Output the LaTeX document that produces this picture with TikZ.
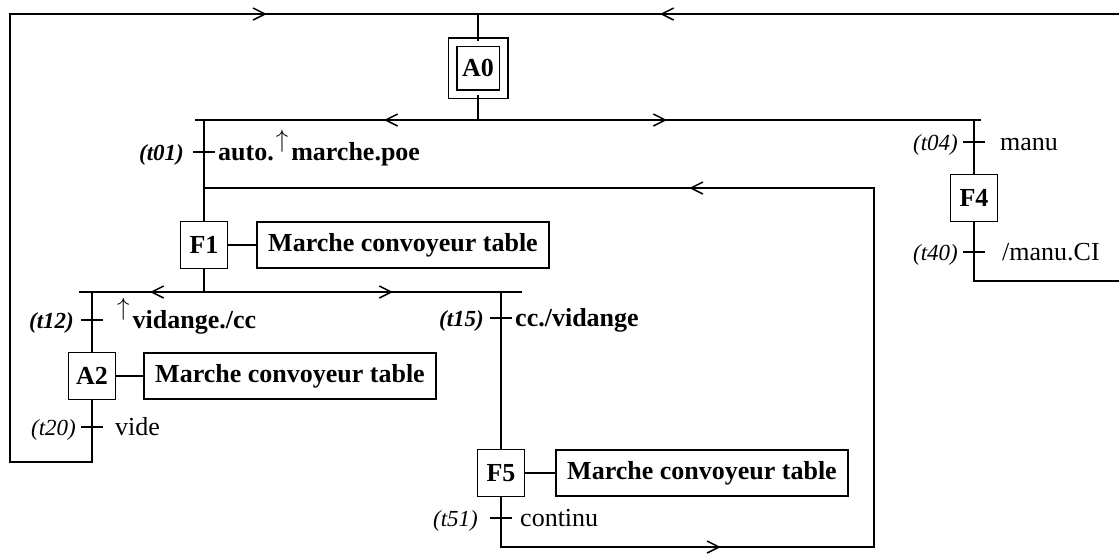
\documentclass[tikz,border=0pt]{standalone}
\usepackage{fontspec}
\setmainfont{Liberation Serif}
\usetikzlibrary{arrows.meta,decorations.markings}
\newcommand{\upar}{{\fontsize{24pt}{24pt}\selectfont\raisebox{13pt}{$\uparrow$}}}
\begin{document}
\begin{tikzpicture}[x=1pt,y=-1pt,
  flow/.style={line width=1.8pt,line join=miter},
  stepbox/.style={draw,line width=1.5pt,minimum width=47pt,minimum height=47pt,inner sep=0pt,
    font=\fontsize{26pt}{28pt}\selectfont\bfseries},
  actbox/.style={draw,line width=1.5pt,minimum height=46pt,inner xsep=11pt,inner ysep=0pt,
    font=\fontsize{26pt}{28pt}\selectfont\bfseries},
  tlab/.style={anchor=base east,inner sep=0pt,font=\fontsize{23pt}{25pt}\selectfont\itshape},
  tlabb/.style={anchor=base east,inner sep=0pt,font=\fontsize{23pt}{25pt}\selectfont\bfseries\itshape},
  cond/.style={anchor=base west,inner sep=0pt,font=\fontsize{26pt}{28pt}\selectfont},
  condb/.style={anchor=base west,inner sep=0pt,font=\fontsize{26pt}{28pt}\selectfont\bfseries},
  tickmark/.style={line width=2.4pt},
  arr/.style={postaction={decorate,decoration={markings,
    mark=at position #1 with {\arrow{Straight Barb[length=12pt,width=12pt,line width=1.5pt]}}}}}
]
\useasboundingbox (0,0) rectangle (1119,558);

% steps
\node[stepbox,double,double distance=7pt,minimum width=51pt,minimum height=52pt] (A0) at (478,68) {A0};
\node[stepbox] (F1) at (204,245) {F1};
\node[actbox] (F1act) at (403,245) {Marche convoyeur table};
\node[stepbox] (A2) at (92,376) {A2};
\node[actbox] (A2act) at (290,376) {Marche convoyeur table};
\node[stepbox] (F5) at (501,473) {F5};
\node[actbox] (F5act) at (702,473) {Marche convoyeur table};
\node[stepbox] (F4) at (974,198) {F4};

% junction coordinates
\coordinate (tj) at (478,14);
\coordinate (tr) at (1119,14);
\coordinate (d0) at (478,120);
\coordinate (d0l) at (195,120);
\coordinate (d0r) at (981,120);
\coordinate (b1) at (204,120);
\coordinate (b4) at (974,120);
\coordinate (d1) at (204,292);
\coordinate (d1l) at (79,292);
\coordinate (d1r) at (522,292);
\coordinate (b2) at (92,292);
\coordinate (b5) at (501,292);
\coordinate (r4) at (1119,281);

% actions
\draw[line width=1.5pt] (F1) -- (F1act);
\draw[line width=1.5pt] (A2) -- (A2act);
\draw[line width=1.5pt] (F5) -- (F5act);

% top
\draw[flow] (tj) -- (A0);
\draw[flow,arr=459pt] (tr) -- (tj);
\draw[flow] (A0) -- (d0);
\draw[flow,arr=94pt] (d0) -- (d0l);
\draw[flow,arr=189pt] (d0) -- (d0r);
\draw[flow] (b1) -- (F1);
\draw[flow] (b4) -- (F4);
\draw[flow] (F4) |- (r4);

% F1 divergence
\draw[flow] (F1) -- (d1);
\draw[flow,arr=54pt] (d1) -- (d1l);
\draw[flow,arr=189pt] (d1) -- (d1r);
\draw[flow] (b2) -- (A2);
\draw[flow] (b5) -- (F5);

% return loops
\draw[flow,arr=848.5pt] (A2.south) -- (92,462) -- (10,462) -- (10,14) -- (tj);
\draw[flow,arr=269.5pt,arr=966.5pt] (F5.south) -- (501,547) -- (874,547) -- (874,188) -- (204,188);

% transitions
\draw[tickmark] (193,152) -- (215,152);
\draw[tickmark] (963,142) -- (985,142);
\draw[tickmark] (963,252) -- (985,252);
\draw[tickmark] (81,320) -- (103,320);
\draw[tickmark] (81,427) -- (103,427);
\draw[tickmark] (490,318) -- (512,318);
\draw[tickmark] (490,518) -- (512,518);

\node[tlabb] (l01) at (184,160) {(t01)};
\node[condb] (c01) at (218,160) {auto.\kern2pt\upar\kern3pt marche.poe};
\node[tlab] (l04) at (958,150) {(t04)};
\node[cond] (c04) at (1000,150) {manu};
\node[tlab] (l40) at (958,260) {(t40)};
\node[cond] (c40) at (1002,260) {/manu.CI};
\node[tlabb] (l12) at (74,328) {(t12)};
\node[condb] (c12) at (117,328) {\upar\kern3pt vidange./cc};
\node[tlab] (l20) at (76,435) {(t20)};
\node[cond] (c20) at (115,435) {vide};
\node[tlabb] (l15) at (484,326) {(t15)};
\node[condb] (c15) at (515,326) {cc./vidange};
\node[tlab] (l51) at (478,526) {(t51)};
\node[cond] (c51) at (520,526) {continu};
\end{tikzpicture}
\end{document}
